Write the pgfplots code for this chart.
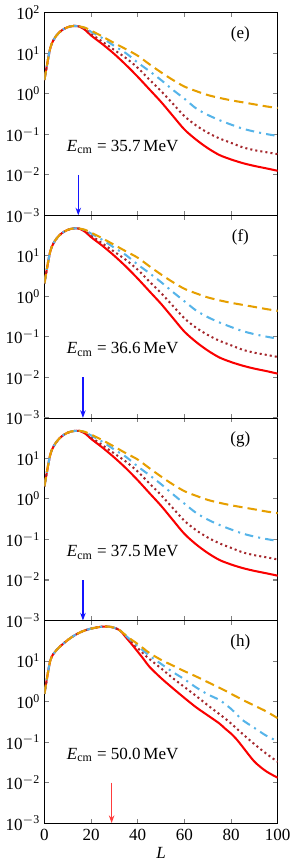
\documentclass[border=0pt]{standalone}
\usepackage{fontspec}
\setmainfont{Liberation Serif}
\usepackage{pgfplots}
\usepackage{pgfplotstable}
\pgfplotsset{compat=1.18}
\usepgfplotslibrary{groupplots}
\usetikzlibrary{arrows.meta}

\definecolor{cred}{RGB}{250,0,0}
\definecolor{cbrown}{RGB}{165,40,45}
\definecolor{cblue}{RGB}{86,180,233}
\definecolor{corange}{RGB}{230,159,0}
\definecolor{carrowb}{RGB}{20,20,255}
\definecolor{carrowr}{RGB}{255,60,60}

\pgfplotstableread{
L r d b o
0 2.19 2.19 2.19 2.19
2.5 13.5 13.5 13.5 13.5
5 26.9 26.9 26.9 26.9
7.5 37.2 37.2 37.2 37.2
10 44.2 44.2 44.2 44.2
12.5 47.3 47.3 47.3 47.3
15 45.7 45.9 46.0 46.1
17.5 37.5 39.8 41.7 42.7
20 27.5 30.2 33.9 36.3
25 16.6 19.1 23.4 25.7
30 9.55 12.0 15.1 17.8
35 5.13 7.59 10.0 12.6
40 2.63 4.37 5.89 8.71
45 1.29 2.24 3.63 5.37
50 0.631 1.17 2.19 3.39
55 0.288 0.575 1.26 2.21
60 0.132 0.282 0.759 1.51
65 0.0741 0.166 0.437 1.17
70 0.0457 0.110 0.302 0.933
75 0.0309 0.0794 0.224 0.794
80 0.0240 0.0617 0.174 0.692
85 0.0195 0.0479 0.138 0.617
90 0.0166 0.0407 0.117 0.550
95 0.0145 0.0363 0.102 0.490
100 0.0126 0.0324 0.0912 0.447
}\tabE

\pgfplotstableread{
L r d b o
0 2.1 2.1 2.1 2.1
2.5 13.0 13.0 13.0 13.0
5 26.0 26.0 26.0 26.0
7.5 36.5 36.5 36.5 36.5
10 44.0 44.0 44.0 44.0
12.5 47.6 47.6 47.6 47.6
15 46.8 47.0 47.1 47.2
17.5 39.0 41.2 43.0 43.8
20 29.0 32.0 35.5 37.5
25 17.5 20.0 24.5 26.8
30 10.0 12.6 15.8 18.6
35 5.4 7.9 10.4 12.9
40 2.75 4.55 6.1 9.0
45 1.34 2.33 3.75 5.55
50 0.655 1.21 2.25 3.48
55 0.297 0.59 1.29 2.26
60 0.135 0.288 0.76 1.54
65 0.0752 0.169 0.45 1.19
70 0.0462 0.112 0.308 0.945
75 0.0311 0.0805 0.228 0.80
80 0.0240 0.0622 0.176 0.695
85 0.0195 0.0482 0.139 0.618
90 0.0165 0.0408 0.117 0.550
95 0.0144 0.0362 0.102 0.488
100 0.0124 0.0320 0.0905 0.440
}\tabF

\pgfplotstableread{
L r d b o
0 2.05 2.05 2.05 2.05
2.5 12.5 12.5 12.5 12.5
5 25.0 25.0 25.0 25.0
7.5 35.5 35.5 35.5 35.5
10 43.5 43.5 43.5 43.5
12.5 47.5 47.5 47.5 47.5
15 47.8 48.0 48.1 48.2
17.5 41.0 43.0 44.5 45.0
20 30.5 33.5 37.0 39.0
25 18.3 21.0 25.5 28.0
30 10.5 13.2 16.5 19.5
35 5.7 8.3 10.9 13.4
40 2.9 4.75 6.35 9.4
45 1.40 2.42 3.88 5.75
50 0.68 1.25 2.32 3.58
55 0.305 0.60 1.32 2.30
60 0.138 0.29 0.77 1.56
65 0.0760 0.170 0.455 1.20
70 0.0465 0.112 0.310 0.95
75 0.0313 0.0805 0.229 0.805
80 0.0242 0.0622 0.177 0.70
85 0.0197 0.0482 0.140 0.622
90 0.0168 0.0410 0.118 0.555
95 0.0147 0.0365 0.103 0.492
100 0.0128 0.0322 0.0920 0.447
}\tabG

\pgfplotstableread{
L r d b o
0 1.55 1.55 1.55 1.55
2.5 10.2 10.2 10.2 10.2
5 18.2 18.2 18.2 18.2
7.5 25.1 25.1 25.1 25.1
10 33.1 33.1 33.1 33.1
12.5 41.7 41.7 41.7 41.7
15 50.1 50.1 50.1 50.1
17.5 57.5 57.5 57.5 57.5
20 63.1 63.1 63.1 63.1
22.5 67.6 67.6 67.6 67.6
25 70.8 70.8 70.8 70.8
27.5 70.8 70.8 70.8 70.8
30 66.1 66.1 66.1 66.1
32.5 56.2 56.2 56.2 56.2
35 38.0 40.7 41.7 42.7
37.5 25.7 28.8 30.9 33.1
40 17.0 20.9 23.4 26.3
42.5 11.2 15.1 17.8 20.4
45 7.24 11.2 13.5 15.8
50 3.80 6.61 8.51 10.7
55 2.14 3.80 5.37 7.76
60 1.23 2.29 3.55 5.62
65 0.724 1.38 2.24 4.17
70 0.457 0.813 1.51 3.02
75 0.288 0.490 1.10 2.19
77.5 0.214 0.380 0.86 1.86
80 0.162 0.288 0.661 1.55
82.5 0.115 0.214 0.479 1.31
85 0.0759 0.158 0.347 1.10
90 0.0331 0.0891 0.224 0.794
95 0.0191 0.0525 0.145 0.575
100 0.0132 0.0324 0.105 0.389
}\tabH

\begin{document}
\begin{tikzpicture}
\begin{groupplot}[
  group style={group size=1 by 4, vertical sep=0pt, xticklabels at=edge bottom},
  width=137pt, height=119pt, scale only axis,
  ymode=log, xmin=0, xmax=100, ymin=1e-3, ymax=1e2,
  ytick={1e-3,1e-2,1e-1,1,10,100},
  yminorticks=false,
  xtick={0,20,40,60,80,100},
  tick align=inside,
  major tick style={gray, semithick},
  major tick length=2.6pt,
  /pgf/number format/assume math mode=true,
  yticklabel style={xshift=1pt},
  every axis plot/.append style={line width=1.2pt, smooth},
  axis line style={line width=0.5pt},
  clip=true,
]
% ---- (e)
\nextgroupplot[yticklabels={10\textsuperscript{$-$3},10\textsuperscript{$-$2},10\textsuperscript{$-$1},10\textsuperscript{0},10\textsuperscript{1},10\textsuperscript{2}}]
\addplot[cred] table[x=L,y=r] {\tabE};
\addplot[cbrown, dash pattern=on 1.2pt off 1.8pt] table[x=L,y=d] {\tabE};
\addplot[cblue, dash pattern=on 5pt off 3pt on 1.2pt off 3pt] table[x=L,y=b] {\tabE};
\addplot[corange, dash pattern=on 5.5pt off 3pt] table[x=L,y=o] {\tabE};
\node at (axis cs:84,29.5) {(e)};
\node[anchor=base west, inner sep=0pt] at (axis cs:9.5,0.038) {\textit{E}\textsubscript{cm} = 35.7\,MeV};
\draw[carrowb, line width=0.9pt, -{Stealth[length=4.5pt,width=3.2pt]}] (axis cs:14.5,1e-2) -- (axis cs:14.5,1e-3);
% ---- (f)
\nextgroupplot[yticklabels={10\textsuperscript{$-$3},10\textsuperscript{$-$2},10\textsuperscript{$-$1},10\textsuperscript{0},10\textsuperscript{1},{}}]
\addplot[cred] table[x=L,y=r] {\tabF};
\addplot[cbrown, dash pattern=on 1.2pt off 1.8pt] table[x=L,y=d] {\tabF};
\addplot[cblue, dash pattern=on 5pt off 3pt on 1.2pt off 3pt] table[x=L,y=b] {\tabF};
\addplot[corange, dash pattern=on 5.5pt off 3pt] table[x=L,y=o] {\tabF};
\node at (axis cs:84,29.5) {(f)};
\node[anchor=base west, inner sep=0pt] at (axis cs:9.5,0.038) {\textit{E}\textsubscript{cm} = 36.6\,MeV};
\draw[carrowb, line width=0.9pt, -{Stealth[length=4.5pt,width=3.2pt]}] (axis cs:16.5,1e-2) -- (axis cs:16.5,1e-3);
% ---- (g)
\nextgroupplot[yticklabels={10\textsuperscript{$-$3},10\textsuperscript{$-$2},10\textsuperscript{$-$1},10\textsuperscript{0},10\textsuperscript{1},{}}]
\addplot[cred] table[x=L,y=r] {\tabG};
\addplot[cbrown, dash pattern=on 1.2pt off 1.8pt] table[x=L,y=d] {\tabG};
\addplot[cblue, dash pattern=on 5pt off 3pt on 1.2pt off 3pt] table[x=L,y=b] {\tabG};
\addplot[corange, dash pattern=on 5.5pt off 3pt] table[x=L,y=o] {\tabG};
\node at (axis cs:84,29.5) {(g)};
\node[anchor=base west, inner sep=0pt] at (axis cs:9.5,0.038) {\textit{E}\textsubscript{cm} = 37.5\,MeV};
\draw[carrowb, line width=0.9pt, -{Stealth[length=4.5pt,width=3.2pt]}] (axis cs:16.5,1e-2) -- (axis cs:16.5,1e-3);
% ---- (h)
\nextgroupplot[yticklabels={10\textsuperscript{$-$3},10\textsuperscript{$-$2},10\textsuperscript{$-$1},10\textsuperscript{0},10\textsuperscript{1},{}},
  xlabel={\textit{L}}, xlabel style={yshift=3pt}]
\addplot[cred] table[x=L,y=r] {\tabH};
\addplot[cbrown, dash pattern=on 1.2pt off 1.8pt] table[x=L,y=d] {\tabH};
\addplot[cblue, dash pattern=on 5pt off 3pt on 1.2pt off 3pt] table[x=L,y=b] {\tabH};
\addplot[corange, dash pattern=on 5.5pt off 3pt] table[x=L,y=o] {\tabH};
\node at (axis cs:84,29.5) {(h)};
\node[anchor=base west, inner sep=0pt] at (axis cs:9.5,0.038) {\textit{E}\textsubscript{cm} = 50.0\,MeV};
\draw[carrowr, line width=0.9pt, -{Stealth[length=4.5pt,width=3.2pt]}] (axis cs:28.8,1e-2) -- (axis cs:28.8,1e-3);
\end{groupplot}
\end{tikzpicture}
\end{document}
